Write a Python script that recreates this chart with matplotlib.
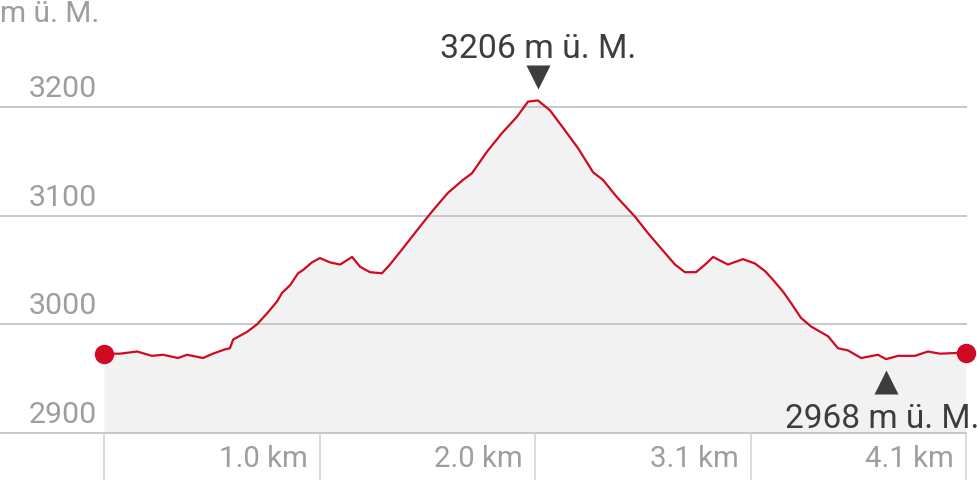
import matplotlib
matplotlib.use("Agg")
import matplotlib.pyplot as plt
from matplotlib.transforms import ScaledTranslation

plt.rcParams['font.family'] = ['Roboto', 'DejaVu Sans']

# ---- data ----
dist_km = [0.000, 0.076, 0.157, 0.228, 0.281, 0.352, 0.395, 0.471, 0.518, 0.576,
           0.599, 0.614, 0.680, 0.728, 0.775, 0.823, 0.847, 0.885, 0.923, 0.947,
           0.989, 1.027, 1.075, 1.123, 1.180, 1.218, 1.265, 1.322, 1.360, 1.422,
           1.503, 1.565, 1.636, 1.708, 1.750, 1.822, 1.893, 1.964, 2.017, 2.064,
           2.121, 2.183, 2.255, 2.326, 2.373, 2.440, 2.526, 2.587, 2.649, 2.716,
           2.763, 2.816, 2.859, 2.897, 2.968, 3.039, 3.096, 3.144, 3.182, 3.230,
           3.263, 3.315, 3.363, 3.444, 3.491, 3.539, 3.601, 3.681, 3.720, 3.777,
           3.857, 3.919, 3.976, 4.100]
elev_m = [2973, 2973, 2975, 2971, 2972, 2969, 2972, 2969, 2973, 2977,
          2978, 2986, 2993, 3000, 3010, 3021, 3029, 3036, 3047, 3050,
          3057, 3061, 3057, 3055, 3062, 3053, 3048, 3047, 3055, 3070,
          3090, 3105, 3121, 3133, 3139, 3159, 3176, 3191, 3205, 3206,
          3197, 3181, 3162, 3140, 3133, 3117, 3099, 3084, 3070, 3055,
          3048, 3048, 3055, 3062, 3055, 3060, 3056, 3049, 3041, 3030,
          3021, 3006, 2998, 2989, 2978, 2976, 2969, 2972, 2968, 2971,
          2971, 2975, 2973, 2974]
y_ticks = [2900, 3000, 3100, 3200]
x_ticks = [1.025, 2.05, 3.075, 4.1]
x_tick_labels = ["1.0 km", "2.0 km", "3.1 km", "4.1 km"]
unit_label = "m ü. M."
max_label = "3206 m ü. M."
min_label = "2968 m ü. M."

# ---- layout ----
W, H, DPI = 978, 480, 100
fig = plt.figure(figsize=(W / DPI, H / DPI), dpi=DPI)
ax = fig.add_axes([0, 0, 1, 1])
ax.set_axis_off()

x0_px, x1_px = 104, 966        # pixel positions of 0 km and total length
y0_px, y1_px = 433, 107        # pixel positions of 2900 and 3200
total = dist_km[-1]
kpp = total / (x1_px - x0_px)
mpp = (3200 - 2900) / (y0_px - y1_px)
ax.set_xlim(-x0_px * kpp, (W - x0_px) * kpp)
ax.set_ylim(2900 - (H - y0_px) * mpp, 2900 + y0_px * mpp)

red = '#cf0a22'
grid_c = '#c4c4c4'
tick_c = '#9e9e9e'
dark = '#3d3d3d'

# fill + line
ax.fill_between(dist_km, elev_m, 2900, color='#f2f2f2', lw=0, zorder=1)
ax.plot(dist_km, elev_m, color=red, lw=1.6, zorder=3, solid_joinstyle='round')
ax.plot([dist_km[0], dist_km[-1]], [elev_m[0], elev_m[-1]], 'o', color=red,
        ms=14, zorder=4, mec='none')

# grid lines
xl = ax.get_xlim()
ax.hlines(y_ticks, xl[0], total + kpp, colors=grid_c, lw=1.3, zorder=2)
yl = ax.get_ylim()
ax.vlines([0] + x_ticks, yl[0], 2900, colors='#d4d4d4', lw=1.2, zorder=2)

# y labels
for v in y_ticks:
    ax.annotate(str(v), xy=(0, v), xytext=(-7, 10), textcoords='offset pixels',
                ha='right', va='baseline', fontsize=21.8, color=tick_c)
fig.text(0.0, 1 - 22 / H, unit_label, ha='left', va='baseline', fontsize=21.5,
         color=tick_c)

# x labels
for t, lab in zip(x_ticks, x_tick_labels):
    ax.annotate(lab, xy=(t, 2900), xytext=(-12, -34), textcoords='offset pixels',
                ha='right', va='baseline', fontsize=21.2, color=tick_c)

# max / min annotations
imax = max(range(len(elev_m)), key=lambda i: elev_m[i])
imin = min(range(len(elev_m)), key=lambda i: elev_m[i])
xmax, ymax = dist_km[imax], elev_m[imax]
xmin, ymin = dist_km[imin], elev_m[imin]

def off(dx, dy):
    return ax.transData + ScaledTranslation(dx / DPI, dy / DPI, fig.dpi_scale_trans)

ax.plot([xmax], [ymax], marker='v', color=dark, ms=17, mec='none',
        transform=off(0, 23), zorder=5)
ax.annotate(max_label, xy=(xmax, ymax), xytext=(0, 42), textcoords='offset pixels',
            ha='center', va='baseline', fontsize=24.3, color=dark)
ax.plot([xmin], [ymin], marker='^', color=dark, ms=17, mec='none',
        transform=off(0, -23), zorder=5)
ax.annotate(min_label, xy=(xmin, ymin), xytext=(-4, -69), textcoords='offset pixels',
            ha='center', va='baseline', fontsize=24.0, color=dark)

fig.savefig('out.png', dpi=DPI)
